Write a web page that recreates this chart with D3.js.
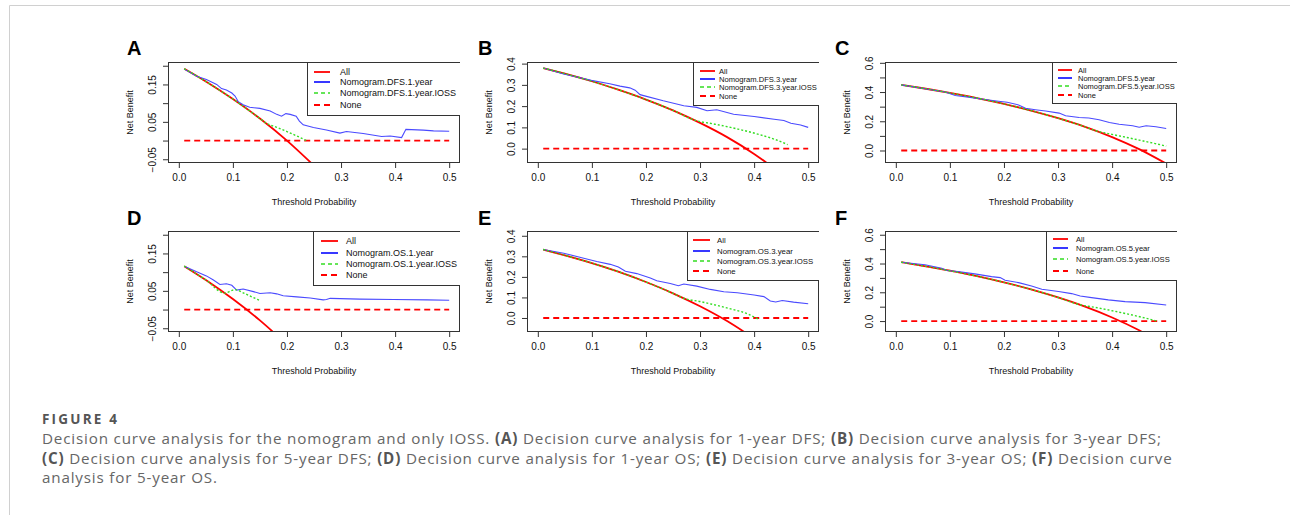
<!DOCTYPE html>
<html>
<head>
<meta charset="utf-8">
<script src="https://cdn.jsdelivr.net/npm/d3@7"></script>
<style>
  body { margin: 0; background: #fff; }
  svg text { font-family: "Liberation Sans", Arial, Helvetica, sans-serif; }
  .caption text { font-family: "Open Sans", sans-serif; white-space: pre; }
</style>
</head>
<body>
<svg id="fig" width="1290" height="515"></svg>
<script>
// ---- values: [threshold, net benefit] ----
var xTicks = [0, 0.1, 0.2, 0.3, 0.4, 0.5];
var noneLine = [[0.01, 0], [0.5, 0]];

// A: 1-year DFS
var allA = [[0.01,0.192],[0.05,0.158],[0.10,0.111],[0.15,0.059],[0.20,0.0],[0.25,-0.067]];
var nomA = [[0.01,0.191],[0.033,0.172],[0.051,0.163],[0.07,0.150],[0.079,0.139],[0.088,0.135],[0.098,0.127],
  [0.104,0.119],[0.11,0.104],[0.119,0.096],[0.131,0.089],[0.15,0.086],[0.169,0.079],[0.181,0.070],[0.19,0.065],
  [0.198,0.072],[0.206,0.070],[0.217,0.065],[0.223,0.052],[0.23,0.042],[0.249,0.035],[0.273,0.028],[0.298,0.020],
  [0.31,0.024],[0.341,0.019],[0.375,0.011],[0.391,0.012],[0.412,0.008],[0.42,0.030],[0.452,0.028],[0.471,0.026],[0.5,0.025]];
var iossA = [[0.01,0.192],[0.05,0.158],[0.10,0.111],[0.15,0.059],[0.16,0.048],[0.18,0.036],[0.20,0.024],[0.22,0.011],[0.236,0.0]];

// B: 3-year DFS
var allB = [[0.01,0.379],[0.05,0.353],[0.10,0.317],[0.15,0.276],[0.20,0.231],[0.25,0.180],[0.30,0.121],[0.35,0.054],[0.40,-0.025],[0.45,-0.118]];
var nomB = [[0.01,0.379],[0.046,0.352],[0.099,0.321],[0.133,0.305],[0.152,0.294],[0.17,0.286],[0.18,0.275],[0.189,0.254],
  [0.201,0.246],[0.232,0.225],[0.27,0.202],[0.294,0.194],[0.313,0.178],[0.331,0.183],[0.362,0.162],[0.4,0.151],
  [0.437,0.138],[0.455,0.132],[0.468,0.119],[0.486,0.111],[0.5,0.100]];
var iossB = [[0.01,0.379],[0.05,0.353],[0.10,0.317],[0.15,0.276],[0.20,0.231],[0.25,0.180],[0.29,0.134],[0.33,0.114],[0.37,0.092],[0.41,0.066],[0.44,0.042],[0.462,0.019]];

// C: 5-year DFS
var allC = [[0.01,0.449],[0.05,0.426],[0.10,0.394],[0.15,0.359],[0.20,0.319],[0.25,0.273],[0.30,0.221],[0.35,0.162],[0.40,0.092],[0.45,0.009],[0.50,-0.090]];
var nomC = [[0.01,0.449],[0.054,0.423],[0.091,0.400],[0.11,0.376],[0.134,0.365],[0.165,0.349],[0.19,0.337],[0.206,0.330],
  [0.227,0.312],[0.24,0.289],[0.258,0.279],[0.277,0.270],[0.302,0.256],[0.314,0.238],[0.339,0.226],[0.357,0.222],
  [0.376,0.210],[0.395,0.192],[0.413,0.180],[0.438,0.169],[0.45,0.159],[0.463,0.169],[0.481,0.162],[0.5,0.150]];
var iossC = [[0.01,0.449],[0.05,0.426],[0.10,0.394],[0.15,0.359],[0.20,0.319],[0.25,0.273],[0.30,0.221],[0.35,0.162],[0.37,0.135],[0.40,0.110],[0.43,0.087],[0.46,0.063],[0.48,0.047],[0.50,0.030]];

// D: 1-year OS
var allD = [[0.01,0.116],[0.05,0.079],[0.10,0.028],[0.15,-0.029],[0.20,-0.094]];
var nomD = [[0.01,0.116],[0.033,0.101],[0.051,0.090],[0.064,0.079],[0.076,0.067],[0.088,0.069],[0.098,0.065],[0.107,0.052],
  [0.119,0.055],[0.138,0.048],[0.15,0.043],[0.169,0.045],[0.181,0.042],[0.193,0.037],[0.218,0.034],[0.243,0.031],
  [0.267,0.026],[0.273,0.027],[0.28,0.030],[0.335,0.028],[0.397,0.027],[0.459,0.026],[0.5,0.025]];
var iossD = [[0.01,0.116],[0.05,0.079],[0.085,0.044],[0.10,0.052],[0.105,0.053],[0.12,0.044],[0.135,0.034],[0.15,0.024]];

// E: 3-year OS
var allE = [[0.01,0.333],[0.05,0.305],[0.10,0.267],[0.15,0.224],[0.20,0.175],[0.25,0.120],[0.30,0.057],[0.35,-0.015],[0.40,-0.100]];
var nomE = [[0.01,0.333],[0.048,0.315],[0.085,0.291],[0.109,0.275],[0.134,0.261],[0.149,0.248],[0.162,0.227],[0.183,0.216],
  [0.208,0.195],[0.22,0.181],[0.245,0.168],[0.26,0.157],[0.27,0.165],[0.294,0.155],[0.319,0.139],[0.344,0.128],
  [0.369,0.123],[0.4,0.112],[0.418,0.104],[0.43,0.083],[0.44,0.078],[0.452,0.085],[0.473,0.077],[0.5,0.069]];
var iossE = [[0.01,0.333],[0.05,0.305],[0.10,0.267],[0.15,0.224],[0.20,0.175],[0.25,0.120],[0.27,0.096],[0.30,0.080],[0.33,0.062],[0.36,0.042],[0.39,0.018],[0.409,-0.008]];

// F: 5-year OS
var allF = [[0.01,0.409],[0.05,0.384],[0.10,0.350],[0.15,0.312],[0.20,0.269],[0.25,0.220],[0.30,0.164],[0.35,0.100],[0.40,0.025],[0.45,-0.064],[0.50,-0.170]];
var nomF = [[0.01,0.409],[0.054,0.391],[0.085,0.367],[0.094,0.351],[0.115,0.344],[0.146,0.328],[0.177,0.309],[0.193,0.302],
  [0.202,0.284],[0.227,0.267],[0.251,0.244],[0.27,0.221],[0.301,0.205],[0.325,0.191],[0.341,0.174],[0.362,0.163],
  [0.393,0.147],[0.424,0.135],[0.461,0.128],[0.5,0.112]];
var iossF = [[0.01,0.409],[0.05,0.384],[0.10,0.350],[0.15,0.312],[0.20,0.269],[0.25,0.220],[0.30,0.164],[0.34,0.114],[0.37,0.094],[0.40,0.072],[0.43,0.048],[0.46,0.022],[0.483,0.0]];

// y axis ticks / labels per panel type
var yTicksSmall = [-0.05, 0, 0.05, 0.1, 0.15, 0.2];
var yLabSmall = ["-0.05", "0.05", "0.15"];
var yTicksMid = [0, 0.1, 0.2, 0.3, 0.4];
var yLabMid = ["0.0", "0.1", "0.2", "0.3", "0.4"];
var yTicksBig = [0, 0.1, 0.2, 0.3, 0.4, 0.5, 0.6];
var yLabBig = ["0.0", "0.2", "0.4", "0.6"];

var panels = [
  {id:"A", name:"DFS.1", all:allA, nom:nomA, ioss:iossA, ylim:[-0.05,0.2], yt:yTicksSmall, yl:yLabSmall},
  {id:"B", name:"DFS.3", all:allB, nom:nomB, ioss:iossB, ylim:[-0.05,0.39], yt:yTicksMid, yl:yLabMid},
  {id:"C", name:"DFS.5", all:allC, nom:nomC, ioss:iossC, ylim:[-0.06,0.58], yt:yTicksBig, yl:yLabBig},
  {id:"D", name:"OS.1", all:allD, nom:nomD, ioss:iossD, ylim:[-0.05,0.2], yt:yTicksSmall, yl:yLabSmall},
  {id:"E", name:"OS.3", all:allE, nom:nomE, ioss:iossE, ylim:[-0.05,0.405], yt:yTicksMid, yl:yLabMid},
  {id:"F", name:"OS.5", all:allF, nom:nomF, ioss:iossF, ylim:[-0.05,0.6], yt:yTicksBig, yl:yLabBig}
];

// layout
var colX = [168, 527, 885], rowY = [62, 231], bw = 292, bh = 101;
var labelOff = [41, 49, 50];
// legend: left edge, height, font size, row centres, segment start/end, text start (relative)
var legends = [
  {lx:307, lh:53, fs:9,   rows:[10,20,31,43], s0:7, s1:23, tx:33},
  {lx:693, lh:43, fs:7.6, rows:[9,17,25,34],  s0:7, s1:22, tx:26},
  {lx:1052,lh:41, fs:7.5, rows:[8,16,24,33],  s0:6, s1:20, tx:26},
  {lx:313, lh:54, fs:9,   rows:[10,22,33,44], s0:8, s1:25, tx:33},
  {lx:687, lh:49, fs:7.8, rows:[9,20,30,40],  s0:6, s1:23, tx:30},
  {lx:1046,lh:49, fs:7.6, rows:[8,17,28,40],  s0:7, s1:22, tx:30}
];

var svg = d3.select("#fig");
svg.append("rect").attr("width", 1290).attr("height", 515).attr("fill", "#fff");
// page frame
svg.append("path").attr("d", "M9.5,515V5.5H1290").attr("fill", "none").attr("stroke", "#d0d0d0");

var styles = {
  none: {stroke:"#ff0000", width:1.8, dash:"6,4"},
  all:  {stroke:"#ff0000", width:1.8, dash:null},
  nom:  {stroke:"#4a4aff", width:1.1, dash:null},
  ioss: {stroke:"#33dd22", width:1.4, dash:"2,2"}
};

panels.forEach(function(p, i) {
  var bx = colX[i % 3], by = rowY[Math.floor(i / 3)];
  var ext = 0.04 * (p.ylim[1] - p.ylim[0]);
  var x = d3.scaleLinear().domain([-0.02, 0.52]).range([bx, bx + bw]);
  var y = d3.scaleLinear().domain([p.ylim[0] - ext, p.ylim[1] + ext]).range([by + bh, by]);
  var g = svg.append("g");

  var clipId = "clip" + p.id;
  g.append("clipPath").attr("id", clipId)
    .append("rect").attr("x", bx).attr("y", by).attr("width", bw).attr("height", bh);

  // panel letter
  g.append("text").attr("x", bx - labelOff[i % 3]).attr("y", by - 7 + (i < 3 ? 0 : 1))
    .attr("font-size", 20).attr("font-weight", "bold").attr("fill", "#000").text(p.id);

  // axes
  var xa = g.append("g").attr("transform", "translate(0," + (by + bh) + ")")
    .call(d3.axisBottom(x).tickValues(xTicks).tickSize(5).tickPadding(6).tickFormat(d3.format(".1f")));
  xa.select(".domain").remove();
  xa.selectAll("line").attr("stroke", "#333");
  xa.selectAll("text").attr("font-size", 10).attr("fill", "#111")
    .style("font-family", "'Liberation Sans', Arial, sans-serif");

  var ya = g.append("g").attr("transform", "translate(" + bx + ",0)")
    .call(d3.axisLeft(y).tickValues(p.yt).tickSize(5)
      .tickFormat(function(d) {
        var s = d < 0 ? "-" + Math.abs(d).toFixed(2) : (p.yt === yTicksSmall ? d.toFixed(2) : d.toFixed(1));
        return p.yl.indexOf(s) >= 0 ? s.replace("-", "\u2212") : "";
      }));
  ya.select(".domain").remove();
  ya.selectAll("line").attr("stroke", "#333");
  ya.selectAll("text").attr("x", null).attr("dy", null).attr("text-anchor", "middle")
    .attr("transform", "translate(-12,0) rotate(-90)")
    .attr("font-size", 10).attr("fill", "#111")
    .style("font-family", "'Liberation Sans', Arial, sans-serif");

  g.append("text").attr("x", bx + bw / 2).attr("y", by + bh + 42).attr("text-anchor", "middle")
    .attr("font-size", 9).attr("fill", "#111").text("Threshold Probability");
  g.append("text").attr("text-anchor", "middle").attr("font-size", 9).attr("fill", "#111")
    .attr("transform", "translate(" + (bx - 35) + "," + (by + bh / 2) + ") rotate(-90)")
    .text("Net Benefit");

  // curves
  var lineLin = d3.line().x(function(d) { return x(d[0]); }).y(function(d) { return y(d[1]); });
  var lineSmooth = d3.line().curve(d3.curveMonotoneX).x(function(d) { return x(d[0]); }).y(function(d) { return y(d[1]); });
  var plot = g.append("g").attr("clip-path", "url(#" + clipId + ")");
  function draw(data, st, gen) {
    plot.append("path").attr("d", gen(data)).attr("fill", "none")
      .attr("stroke", st.stroke).attr("stroke-width", st.width)
      .attr("stroke-dasharray", st.dash);
  }
  draw(noneLine, styles.none, lineLin);
  draw(p.all, styles.all, lineSmooth);
  draw(p.nom, styles.nom, lineLin);
  draw(p.ioss, styles.ioss, lineSmooth);

  // box
  g.append("rect").attr("x", bx + 0.5).attr("y", by + 0.5).attr("width", bw - 1).attr("height", bh - 1)
    .attr("fill", "none").attr("stroke", "#333");

  // legend
  var L = legends[i];
  var lg = g.append("g").attr("clip-path", "url(#" + clipId + ")");
  lg.append("rect").attr("x", L.lx + 0.5).attr("y", by + 0.5).attr("width", bx + bw - L.lx).attr("height", L.lh)
    .attr("fill", "#fff").attr("stroke", "#333");
  var items = [
    {t:"All", st:styles.all},
    {t:"Nomogram." + p.name + ".year", st:{stroke:"#2222ff", width:1.8, dash:null}},
    {t:"Nomogram." + p.name + ".year.IOSS", st:{stroke:"#33dd22", width:1.6, dash:"4,3"}},
    {t:"None", st:styles.none}
  ];
  items.forEach(function(it, k) {
    var yy = by + L.rows[k];
    lg.append("line").attr("x1", L.lx + L.s0).attr("x2", L.lx + L.s1).attr("y1", yy).attr("y2", yy)
      .attr("stroke", it.st.stroke).attr("stroke-width", it.st.width).attr("stroke-dasharray", it.st.dash);
    lg.append("text").attr("x", L.lx + L.tx).attr("y", yy + L.fs * 0.36)
      .attr("font-size", L.fs).attr("fill", "#111").text(it.t);
  });
});

// caption
var cap = svg.append("g").attr("class", "caption");
cap.append("text").attr("x", 42).attr("y", 424).attr("font-size", 13.5).attr("font-weight", "bold")
  .attr("letter-spacing", 2.2).attr("fill", "#555").text("FIGURE 4");
var capLines = [
  [["Decision curve analysis for the nomogram and only IOSS. ", 0], ["(A)", 1], [" Decision curve analysis for 1-year DFS; ", 0],
   ["(B)", 1], [" Decision curve analysis for 3-year DFS;", 0]],
  [["(C)", 1], [" Decision curve analysis for 5-year DFS; ", 0], ["(D)", 1], [" Decision curve analysis for 1-year OS; ", 0],
   ["(E)", 1], [" Decision curve analysis for 3-year OS; ", 0], ["(F)", 1], [" Decision curve", 0]],
  [["analysis for 5-year OS.", 0]]
];
capLines.forEach(function(parts, k) {
  var t = cap.append("text").attr("x", 42).attr("y", 444 + k * 19.6).attr("font-size", 15.2)
    .attr("letter-spacing", 0.83).attr("fill", "#666");
  parts.forEach(function(pt) {
    t.append("tspan").attr("font-weight", pt[1] ? "bold" : null).attr("fill", pt[1] ? "#555" : null).text(pt[0]);
  });
});
</script>
</body>
</html>
